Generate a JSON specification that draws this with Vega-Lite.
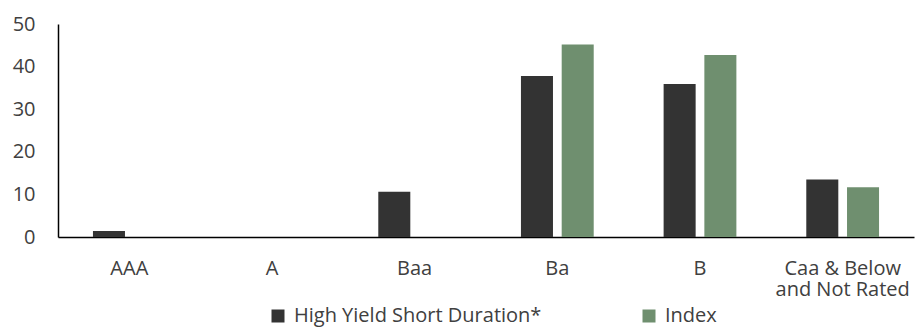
{
  "$schema": "https://vega.github.io/schema/vega-lite/v6.json",
  "width": 856,
  "height": 213,
  "autosize": "none",
  "padding": {"left": 58, "top": 24, "right": 2, "bottom": 91},
  "background": "white",
  "data": {
    "values": [
      {"rating": "AAA", "series": "High Yield Short Duration*", "pct": 1.4},
      {"rating": "AAA", "series": "Index", "pct": 0},
      {"rating": "A", "series": "High Yield Short Duration*", "pct": 0},
      {"rating": "A", "series": "Index", "pct": 0},
      {"rating": "Baa", "series": "High Yield Short Duration*", "pct": 10.6},
      {"rating": "Baa", "series": "Index", "pct": 0},
      {"rating": "Ba", "series": "High Yield Short Duration*", "pct": 37.8},
      {"rating": "Ba", "series": "Index", "pct": 45.2},
      {"rating": "B", "series": "High Yield Short Duration*", "pct": 35.9},
      {"rating": "B", "series": "Index", "pct": 42.7},
      {"rating": "Caa & Below and Not Rated", "series": "High Yield Short Duration*", "pct": 13.5},
      {"rating": "Caa & Below and Not Rated", "series": "Index", "pct": 11.7}
    ]
  },
  "mark": {"type": "bar"},
  "encoding": {
    "x": {
      "field": "rating",
      "type": "nominal",
      "sort": ["AAA", "A", "Baa", "Ba", "B", "Caa & Below and Not Rated"],
      "scale": {"paddingInner": 0.49, "paddingOuter": 0.245},
      "axis": {
        "title": null,
        "labelAngle": 0,
        "ticks": false,
        "labelPadding": 21,
        "labelFontSize": 20,
        "labelColor": "#404040",
        "labelLineHeight": 21,
        "labelExpr": "datum.value == 'Caa & Below and Not Rated' ? ['Caa & Below', 'and Not Rated'] : datum.label",
        "domainColor": "#000000",
        "domainWidth": 1.5
      }
    },
    "xOffset": {
      "field": "series",
      "sort": ["High Yield Short Duration*", "Index"],
      "scale": {"paddingInner": 0.214, "paddingOuter": 0}
    },
    "y": {
      "field": "pct",
      "type": "quantitative",
      "scale": {"domain": [0, 50]},
      "axis": {
        "title": null,
        "values": [0, 10, 20, 30, 40, 50],
        "grid": false,
        "ticks": false,
        "labelPadding": 23,
        "labelFontSize": 20,
        "labelColor": "#404040",
        "domainColor": "#000000",
        "domainWidth": 1.5
      }
    },
    "color": {
      "field": "series",
      "type": "nominal",
      "scale": {
        "domain": ["High Yield Short Duration*", "Index"],
        "range": ["#333333", "#6f8f6f"]
      },
      "legend": {
        "title": null,
        "orient": "none",
        "direction": "horizontal",
        "legendX": 210,
        "legendY": 282,
        "symbolType": "square",
        "symbolSize": 169,
        "symbolStrokeWidth": 0,
        "symbolOpacity": 1,
        "labelFontSize": 20,
        "labelColor": "#404040",
        "labelOffset": 6,
        "columnPadding": 97,
        "labelLimit": 400
      }
    }
  },
  "config": {
    "view": {"stroke": null},
    "font": "Open Sans"
  }
}
